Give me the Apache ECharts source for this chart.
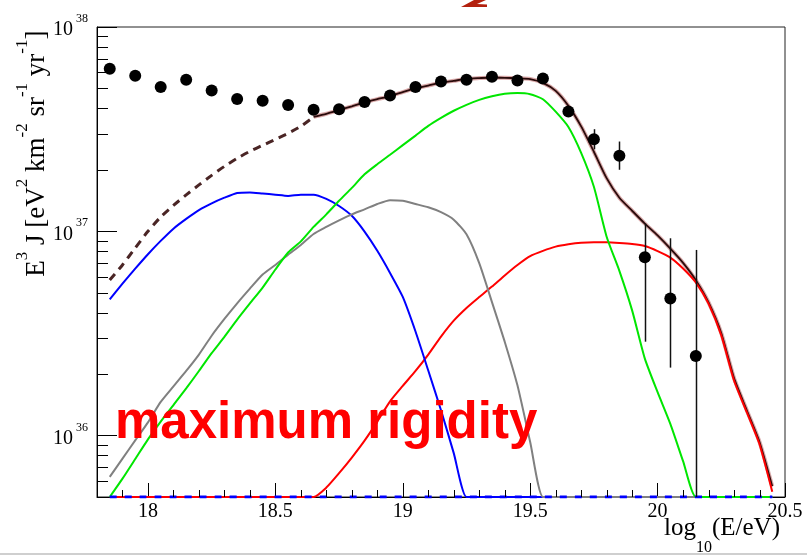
<!DOCTYPE html>
<html><head><meta charset="utf-8">
<script src="https://cdn.jsdelivr.net/npm/echarts@6/dist/echarts.min.js"></script>
<style>html,body{margin:0;padding:0;background:#fff}#c{width:807px;height:556px}</style>
</head><body><div id="c"></div>
<script>
// ---------- data ----------
const X_MIN = 17.8, X_MAX = 20.5, Y_MIN = 5e35, Y_MAX = 1e38;
const DASH_END = 18.65; // total model drawn dashed below this energy

const energies = [
  17.85, 17.9, 17.95, 18.0, 18.05, 18.1, 18.15, 18.2, 18.25, 18.3,
  18.35, 18.4, 18.45, 18.5, 18.55, 18.6, 18.65, 18.7, 18.75, 18.8,
  18.85, 18.9, 18.95, 19.0, 19.05, 19.1, 19.15, 19.2, 19.25, 19.3,
  19.35, 19.4, 19.45, 19.5, 19.55, 19.6, 19.65, 19.7, 19.75, 19.8,
  19.85, 19.9, 19.95, 20.0, 20.05, 20.1, 20.15, 20.2, 20.25, 20.3,
  20.35, 20.4, 20.45
];
const blueFlux = [
  4.64e36, 5.54e36, 6.56e36, 7.72e36, 8.97e36, 1.03e37, 1.15e37, 1.27e37, 1.37e37, 1.46e37,
  1.54e37, 1.55e37, 1.53e37, 1.51e37, 1.49e37, 1.51e37, 1.51e37, 1.44e37, 1.33e37, 1.19e37,
  9.96e36, 8.02e36, 6.25e36, 4.77e36, 3.23e36, 2.08e36, 1.33e36, 8.2e35, 0, 0,
  0, 0, 0, 0, 0, 0, 0, 0, 0, 0,
  0, 0, 0, 0, 0, 0, 0, 0, 0, 0,
  0, 0, 0
];
const grayFlux = [
  6.27e35, 7.71e35, 9.46e35, 1.16e36, 1.46e36, 1.74e36, 2.07e36, 2.49e36, 3.08e36, 3.72e36,
  4.44e36, 5.24e36, 6.14e36, 6.84e36, 7.68e36, 8.57e36, 9.7e36, 1.05e37, 1.13e37, 1.21e37,
  1.28e37, 1.36e37, 1.42e37, 1.41e37, 1.36e37, 1.31e37, 1.24e37, 1.14e37, 9.66e36, 6.98e36,
  4.5e36, 2.88e36, 1.76e36, 9.29e35, 0, 0, 0, 0, 0, 0,
  0, 0, 0, 0, 0, 0, 0, 0, 0, 0,
  0, 0, 0
];
const greenFlux = [
  0, 6.15e35, 7.67e35, 9.58e35, 1.17e36, 1.41e36, 1.70e36, 2.07e36, 2.53e36, 3.04e36,
  3.69e36, 4.43e36, 5.30e36, 6.50e36, 7.87e36, 8.92e36, 1.05e37, 1.21e37, 1.41e37, 1.63e37,
  1.90e37, 2.13e37, 2.37e37, 2.64e37, 2.94e37, 3.28e37, 3.59e37, 3.89e37, 4.16e37, 4.40e37,
  4.58e37, 4.71e37, 4.75e37, 4.69e37, 4.43e37, 3.85e37, 3.24e37, 2.42e37, 1.65e37, 9.4e36,
  6.4e36, 4.10e36, 2.38e36, 1.63e36, 1.14e36, 7.49e35, 0, 0, 0, 0,
  0, 0, 0
];
const redFlux = [
  0, 0, 0, 0, 0, 0, 0, 0, 0, 0,
  0, 0, 0, 0, 0, 0, 0, 5.56e35, 6.54e35, 7.80e35,
  9.44e35, 1.17e36, 1.47e36, 1.75e36, 2.07e36, 2.49e36, 3.05e36, 3.65e36, 4.21e36, 4.76e36,
  5.36e36, 6.08e36, 6.84e36, 7.56e36, 8.02e36, 8.41e36, 8.64e36, 8.79e36, 8.83e36, 8.83e36,
  8.77e36, 8.67e36, 8.47e36, 8.0e36, 7.43e36, 6.57e36, 5.61e36, 4.42e36, 3.09e36, 1.86e36,
  1.30e36, 9.06e35, 5.3e35
];
const totalFlux = [
  5.77e36, 6.84e36, 8.28e36, 1.00e37, 1.175e37, 1.338e37, 1.507e37, 1.686e37, 1.877e37, 2.078e37,
  2.275e37, 2.462e37, 2.634e37, 2.818e37, 3.016e37, 3.265e37, 3.63e37, 3.76e37, 3.92e37, 4.09e37,
  4.27e37, 4.43e37, 4.59e37, 4.80e37, 5.01e37, 5.17e37, 5.34e37, 5.45e37, 5.57e37, 5.62e37,
  5.66e37, 5.64e37, 5.61e37, 5.56e37, 5.33e37, 4.87e37, 4.11e37, 3.26e37, 2.45e37, 1.82e37,
  1.46e37, 1.26e37, 1.09e37, 9.54e36, 8.22e36, 7.0e36, 5.76e36, 4.48e36, 3.17e36, 1.91e36,
  1.33e36, 9.3e35, 5.64e35
];
const floorDashE = [17.85, 20.45];
const floorDashFlux = [0, 0];

const dataE = [17.85, 17.95, 18.05, 18.15, 18.25, 18.35, 18.45, 18.55, 18.65, 18.75,
  18.85, 18.95, 19.05, 19.15, 19.25, 19.35, 19.45, 19.55, 19.65, 19.75,
  19.85, 19.95, 20.05, 20.15];
const dataFlux = [6.25e37, 5.77e37, 5.08e37, 5.52e37, 4.89e37, 4.44e37, 4.36e37, 4.15e37, 3.93e37, 3.96e37,
  4.29e37, 4.62e37, 5.08e37, 5.41e37, 5.52e37, 5.71e37, 5.47e37, 5.6e37, 3.86e37, 2.82e37,
  2.34e37, 7.46e36, 4.69e36, 2.45e36];
const errE = [19.75, 19.85, 19.95, 20.05, 20.15];
const errLow = [2.52e37, 2.0e37, 2.88e36, 2.15e36, 0];
const errHigh = [3.16e37, 2.75e37, 1.09e37, 9.24e36, 8.1e36];

const xMinorTicks = [17.9, 18.1, 18.2, 18.3, 18.4, 18.6, 18.7, 18.8, 18.9, 19.1, 19.2, 19.3, 19.4,
  19.6, 19.7, 19.8, 19.9, 20.1, 20.2, 20.3, 20.4];
const yMajorTicks = [1e36, 1e37, 1e38];
const yMinorTicks = [6e35, 7e35, 8e35, 9e35, 2e36, 3e36, 4e36, 5e36, 6e36, 7e36, 8e36, 9e36,
  2e37, 3e37, 4e37, 5e37, 6e37, 7e37, 8e37, 9e37];

const TITLE_TEXT = 'maximum rigidity';

// ---------- helpers ----------
const floorV = v => (v > 0 ? v : Y_MIN);
const pairs = (xs, ys, keep) => xs.map((x, i) => [x, floorV(ys[i])]).filter(p => !keep || keep(p[0]));

const SERIF = "'Liberation Serif','DejaVu Serif',serif";

function lineSeries(xs, ys, color, width, type, z, keep) {
  return {
    type: 'line', data: pairs(xs, ys, keep), showSymbol: false, symbol: 'none',
    smooth: 0.2,
    lineStyle: { color: color, width: width, type: type || 'solid' },
    z: z, silent: true, animation: false
  };
}

const chart = echarts.init(document.getElementById('c'), null, { renderer: 'canvas' });
chart.setOption({
  animation: false,
  backgroundColor: '#fff',
  grid: { left: 97, right: 22, top: 27, bottom: 59, show: true, borderColor: '#222', borderWidth: 1,
          containLabel: false, outerBoundsMode: 'none' },
  xAxis: {
    type: 'value', min: X_MIN, max: X_MAX,
    axisLine: { onZero: false, lineStyle: { color: '#000', width: 1 } },
    axisTick: { inside: true, length: 14, lineStyle: { color: '#000', width: 1 } },
    minorTick: { show: false },
    splitLine: { show: false },
    axisLabel: { showMinLabel: false, margin: 5, color: '#000', fontFamily: SERIF, fontSize: 20 }
  },
  yAxis: {
    type: 'log', logBase: 10, min: Y_MIN, max: Y_MAX,
    axisLine: { lineStyle: { color: '#000', width: 1 } },
    axisTick: { inside: true, length: 20, lineStyle: { color: '#000', width: 1 } },
    splitLine: { show: false },
    axisLabel: { show: false }
  },
  series: [
    lineSeries(energies, totalFlux, '#d9a9a9', 4, 'solid', 2, x => x >= DASH_END - 1e-9),
    lineSeries(energies, totalFlux, '#2a0b0b', 1.8, 'solid', 3, x => x >= DASH_END - 1e-9),
    lineSeries(energies, totalFlux, '#4a2525', 3, [8, 6], 3, x => x <= DASH_END + 1e-9),
    lineSeries(energies, redFlux, '#ff0000', 2, 'solid', 4),
    lineSeries(energies, blueFlux, '#0000ff', 2, 'solid', 5),
    lineSeries(energies, grayFlux, '#808080', 2, 'solid', 6),
    lineSeries(energies, greenFlux, '#00e600', 2, 'solid', 7),
    lineSeries(floorDashE, floorDashFlux, '#0000ff', 3, [7, 8], 8),
    {
      type: 'custom', z: 9, silent: true, animation: false,
      data: errE.map((x, i) => [x, floorV(errLow[i]), errHigh[i]]),
      encode: { x: 0, y: [1, 2] },
      renderItem: (params, api) => {
        const lo = api.coord([api.value(0), api.value(1)]);
        const hi = api.coord([api.value(0), api.value(2)]);
        const x = Math.round(lo[0]) + 0.5;
        return { type: 'line', shape: { x1: x, y1: lo[1], x2: x, y2: hi[1] },
                 style: { stroke: '#111', lineWidth: 1.5 } };
      }
    },
    {
      type: 'scatter', z: 10, silent: true, animation: false,
      data: dataE.map((x, i) => [x, dataFlux[i]]),
      symbol: 'circle', symbolSize: 12, itemStyle: { color: '#000', opacity: 1 }
    },
    {
      type: 'custom', z: 11, silent: true, animation: false,
      data: xMinorTicks.map(v => [v, Y_MIN]),
      encode: { x: 0, y: 1 },
      renderItem: (params, api) => {
        const p = api.coord([api.value(0), Y_MIN]);
        const cs = params.coordSys;
        const x = Math.round(p[0]) + 0.5;
        const yb = cs.y + cs.height;
        return { type: 'line', shape: { x1: x, y1: yb, x2: x, y2: yb - 7 }, style: { stroke: '#000', lineWidth: 1 } };
      }
    },
    {
      type: 'custom', z: 11, silent: true, animation: false,
      data: yMinorTicks.map(v => [X_MIN, v]),
      encode: { x: 0, y: 1 },
      renderItem: (params, api) => {
        const p = api.coord([X_MIN, api.value(1)]);
        const cs = params.coordSys;
        const y = Math.round(p[1]) + 0.5;
        return { type: 'line', shape: { x1: cs.x, y1: y, x2: cs.x + 11, y2: y }, style: { stroke: '#000', lineWidth: 1 } };
      }
    },
    {
      // y tick labels 10^n, placed through the axis scale
      type: 'custom', z: 11, silent: true, animation: false, clip: false,
      data: yMajorTicks.map(v => [X_MIN, v]),
      encode: { x: 0, y: 1 },
      renderItem: (params, api) => {
        const v = api.value(1);
        const p = api.coord([X_MIN, v]);
        const cs = params.coordSys;
        const exp = String(Math.round(Math.log10(v)));
        return {
          type: 'group',
          children: [
            { type: 'text', x: cs.x - 24, y: p[1] + 3,
              style: { text: '10', fill: '#000', font: "20px 'Liberation Serif', serif", align: 'right', verticalAlign: 'middle' } },
            { type: 'text', x: cs.x - 9, y: p[1] - 8,
              style: { text: exp, fill: '#000', font: "12px 'Liberation Serif', serif", align: 'right', verticalAlign: 'middle' } }
          ]
        };
      }
    }
  ],
  graphic: [
    {
      type: 'text', x: 50, y: 277, rotation: Math.PI / 2, z: 20, silent: true,
      style: {
        text: '{h| }{m|E}{p|3}{m| J [eV}{p|2}{m| km}{p|-2}{m| sr}{p|-1}{m| yr}{p|-1}{m|]}',
        align: 'left', verticalAlign: 'bottom',
        rich: {
          h: { fontSize: 1, lineHeight: 36, verticalAlign: 'top', fill: '#000' },
          m: { fontFamily: SERIF, fontSize: 27, lineHeight: 27, verticalAlign: 'bottom', fill: '#000' },
          p: { fontFamily: SERIF, fontSize: 17, lineHeight: 17, verticalAlign: 'top', fill: '#000' }
        }
      }
    },
    {
      type: 'text', x: 780, y: 515.5, z: 20, silent: true,
      style: {
        text: '{h| }{a|log}{s|10}{a|(E/eV)}',
        align: 'right', verticalAlign: 'top',
        rich: {
          h: { fontSize: 1, lineHeight: 40, verticalAlign: 'top', fill: '#000' },
          a: { fontFamily: SERIF, fontSize: 25, lineHeight: 25, verticalAlign: 'top', fill: '#000' },
          s: { fontFamily: SERIF, fontSize: 16, lineHeight: 16, verticalAlign: 'bottom', fill: '#000' }
        }
      }
    },
    {
      type: 'text', x: 115, y: 424, z: 20, silent: true,
      style: {
        text: TITLE_TEXT, fill: '#ff0000',
        font: "bold 51px 'Liberation Sans', Arial, sans-serif",
        align: 'left', verticalAlign: 'middle'
      }
    },
    {
      type: 'polygon', z: 20, silent: true,
      shape: { points: [[474, 0], [486, 0], [477, 4], [487, 4.5], [487, 7], [461, 7]] },
      style: { fill: '#b3200e' }
    },
    {
      type: 'rect', z: 21, silent: true,
      shape: { x: 0, y: 553, width: 807, height: 2 },
      style: { fill: '#cfcfcf' }
    }
  ]
});
</script>
</body></html>
